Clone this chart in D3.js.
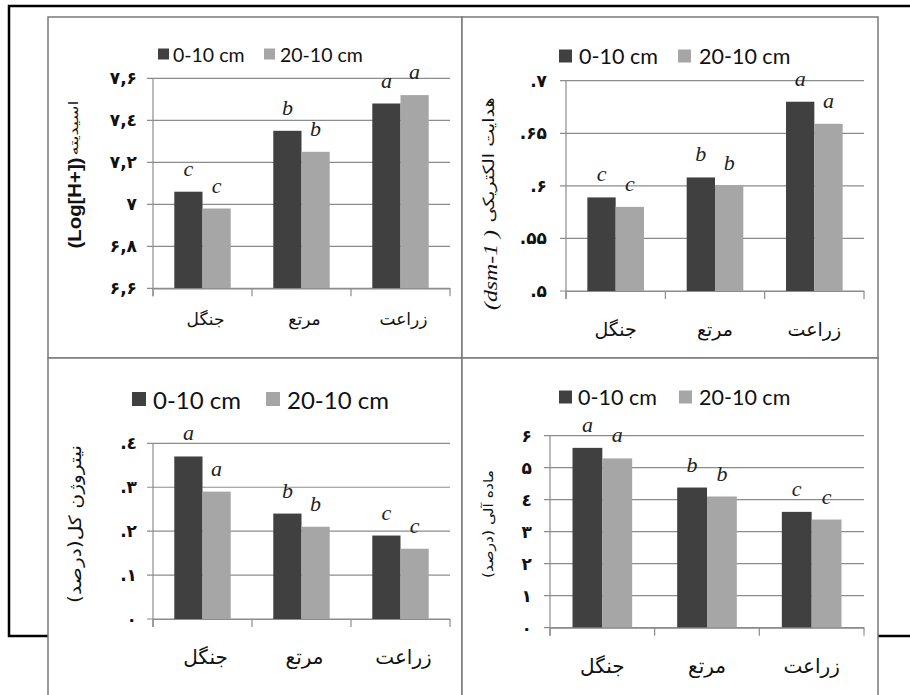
<!DOCTYPE html>
<html>
<head>
<meta charset="utf-8">
<script src="https://cdn.jsdelivr.net/npm/d3@7"></script>
<style>
html,body{margin:0;padding:0;background:#fff;}
svg{display:block;}
</style>
</head>
<body>
<svg id="chart" width="910" height="695"></svg>
<script>
// ---------------- DATA ----------------
const categories = ["جنگل", "مرتع", "زراعت"];
const seriesNames = ["0-10 cm", "20-10 cm"];

// pH (Log[H+])
const phDepth1 = [7.06, 7.35, 7.48];
const phDepth2 = [6.98, 7.25, 7.52];
const phLetters = ["c", "b", "a"];
const phTicks = [6.6, 6.8, 7.0, 7.2, 7.4, 7.6];
const phTickLabels = ["۶,۶", "۶,۸", "۷", "۷,۲", "۷,٤", "۷,۶"];

// EC (dsm-1)
const ecDepth1 = [0.589, 0.608, 0.680];
const ecDepth2 = [0.580, 0.600, 0.659];
const ecLetters = ["c", "b", "a"];
const ecTicks = [0.5, 0.55, 0.6, 0.65, 0.7];
const ecTickLabels = [".۵", ".۵۵", ".۶", ".۶۵", ".۷"];

// Total nitrogen (%)
const nDepth1 = [0.37, 0.24, 0.19];
const nDepth2 = [0.29, 0.21, 0.16];
const nLetters = ["a", "b", "c"];
const nTicks = [0, 0.1, 0.2, 0.3, 0.4];
const nTickLabels = ["۰", ".۱", ".۲", ".۳", ".٤"];

// Organic matter (%)
const omDepth1 = [5.62, 4.38, 3.62];
const omDepth2 = [5.29, 4.10, 3.38];
const omLetters = ["a", "b", "c"];
const omTicks = [0, 1, 2, 3, 4, 5, 6];
const omTickLabels = ["۰", "۱", "۲", "۳", "٤", "۵", "۶"];

// ---------------- LAYOUT ----------------
const svg = d3.select("#chart");
const DARK = "#404040", LIGHT = "#a6a6a6", GRID = "#8c8c8c";
const FA = "'DejaVu Sans', sans-serif";
const RLE = "\u202B", PDF = "\u202C";

// outer black frame (partly hidden by the panels)
svg.append("rect").attr("x", 9).attr("y", 6).attr("width", 920).attr("height", 630)
  .attr("fill", "#fff").attr("stroke", "#000").attr("stroke-width", 2.5);

// panel cells
const cells = [[48, 17, 414, 341], [462, 17, 416, 341], [48, 358, 414, 360], [462, 358, 416, 360]];
svg.selectAll("rect.cell").data(cells).join("rect").attr("class", "cell")
  .attr("x", d => d[0]).attr("y", d => d[1]).attr("width", d => d[2]).attr("height", d => d[3])
  .attr("fill", "#fff").attr("stroke", "#7a7a7a").attr("stroke-width", 1.5);

function vText(g, cx, cy, str, len, font, size, extra) {
  // vertical (rotated) text centred at (cx, cy), forced to a given length
  const t = g.append("text").attr("transform", `translate(${cx},${cy}) rotate(-90)`)
    .attr("text-anchor", "middle").attr("dominant-baseline", "central")
    .attr("font-family", font).attr("font-size", size).attr("fill", "#111")
    .attr("textLength", len).attr("lengthAdjust", "spacingAndGlyphs").text(str);
  if (extra) extra(t);
  return t;
}

function drawPanel(cfg) {
  const g = svg.append("g");
  const x = d3.scaleBand().domain(categories).range([cfg.x0, cfg.x1]);
  const bw = x.bandwidth();
  const xs = d3.scaleBand().domain(seriesNames).range([bw * 0.215, bw * 0.785]);
  const y = d3.scaleLinear().domain(cfg.domain).range([cfg.yBot, cfg.yTop]);

  // gridlines
  g.selectAll("line.grid").data(cfg.ticks).join("line")
    .attr("x1", cfg.x0 - 6).attr("x2", cfg.x1)
    .attr("y1", d => y(d)).attr("y2", d => y(d))
    .attr("stroke", GRID).attr("stroke-width", 1.2);

  // y axis labels
  const ya = d3.axisLeft(y).tickValues(cfg.ticks)
    .tickFormat((d, i) => cfg.tickLabels[i]).tickSize(0).tickPadding(cfg.tickPad);
  const yg = g.append("g").attr("transform", `translate(${cfg.x0},0)`).call(ya);
  yg.select(".domain").remove();
  yg.selectAll("text").attr("font-family", FA).attr("font-weight", "bold")
    .attr("font-size", cfg.tickFont).attr("fill", "#111");

  // bars
  const rows = categories.map((c, i) => ({ c, vals: [cfg.d1[i], cfg.d2[i]], letter: cfg.letters[i] }));
  const grp = g.selectAll("g.cat").data(rows).join("g").attr("transform", d => `translate(${x(d.c)},0)`);
  grp.selectAll("rect").data(d => d.vals.map((v, j) => ({ s: seriesNames[j], v }))).join("rect")
    .attr("x", d => xs(d.s)).attr("width", xs.bandwidth())
    .attr("y", d => y(d.v)).attr("height", d => cfg.yBot - y(d.v))
    .attr("fill", (d, j) => j === 0 ? DARK : LIGHT);
  grp.selectAll("text.sig").data(d => d.vals.map((v, j) => ({ s: seriesNames[j], v, l: d.letter }))).join("text")
    .attr("class", "sig")
    .attr("x", d => xs(d.s) + xs.bandwidth() / 2).attr("y", d => y(d.v) - 16)
    .attr("text-anchor", "middle").attr("font-family", "'Liberation Serif', serif")
    .attr("font-style", "italic").attr("font-size", 22).attr("fill", "#222").text(d => d.l);

  // axis lines
  g.append("line").attr("x1", cfg.x0).attr("x2", cfg.x0).attr("y1", cfg.yTop).attr("y2", cfg.yBot + 8)
    .attr("stroke", GRID).attr("stroke-width", 1.2);
  const xa = d3.axisBottom(x).tickSize(0).tickFormat("");
  const xg = g.append("g").attr("transform", `translate(0,${cfg.yBot})`).call(xa);
  xg.select(".domain").attr("stroke", GRID).attr("stroke-width", 1.2);
  xg.selectAll(".tick").remove();
  g.selectAll("line.xt").data(categories.map(c => x(c) + bw).concat([cfg.x0])).join("line")
    .attr("x1", d => d).attr("x2", d => d).attr("y1", cfg.yBot).attr("y2", cfg.yBot + 8)
    .attr("stroke", GRID).attr("stroke-width", 1.2);

  // category labels
  g.selectAll("text.cat").data(categories).join("text").attr("class", "cat")
    .attr("x", d => x(d) + bw / 2 + cfg.catDx).attr("y", cfg.catY)
    .attr("text-anchor", "middle").attr("dominant-baseline", "middle")
    .attr("font-family", FA).attr("font-size", cfg.catFont).attr("fill", "#111").text(d => d);

  // legend
  const lg = g.append("g");
  seriesNames.forEach((s, j) => {
    lg.append("rect").attr("x", cfg.legSq[j]).attr("y", cfg.legY - cfg.sq / 2)
      .attr("width", cfg.sq).attr("height", cfg.sq).attr("fill", j === 0 ? DARK : LIGHT);
    lg.append("text").attr("x", cfg.legTx[j]).attr("y", cfg.legY).attr("dominant-baseline", "central")
      .attr("font-family", "Lato, sans-serif").attr("font-size", cfg.legFont).attr("fill", "#111").text(s);
  });

  cfg.title(g);
}

// ---------- panel 1: pH ----------
drawPanel({
  x0: 153, x1: 450, yTop: 78.3, yBot: 288.3, domain: [6.6, 7.6],
  ticks: phTicks, tickLabels: phTickLabels, tickPad: 16, tickFont: 17,
  d1: phDepth1, d2: phDepth2, letters: phLetters,
  catY: 320, catFont: 17, catDx: 3,
  legY: 54, sq: 11, legSq: [158, 264], legTx: [173, 280], legFont: 19.5,
  title: g => {
    vText(g, 75, 203, "(Log[H+])", 91, "'Liberation Sans', sans-serif", 18, t => t.attr("font-weight", "bold"));
    vText(g, 73, 128, "اسیدیته", 55, FA, 12.5);
  }
});

// ---------- panel 2: EC ----------
drawPanel({
  x0: 566, x1: 864, yTop: 80.7, yBot: 291, domain: [0.5, 0.7],
  ticks: ecTicks, tickLabels: ecTickLabels, tickPad: 19, tickFont: 17,
  d1: ecDepth1, d2: ecDepth2, letters: ecLetters,
  catY: 330, catFont: 19, catDx: 0,
  legY: 56, sq: 13, legSq: [559, 678], legTx: [579, 699], legFont: 21.5,
  title: g => {
    vText(g, 490, 270, "(dsm-1 )", 80, "'Liberation Serif', serif", 19, t => t.attr("font-style", "italic"));
    vText(g, 489, 160, "هدایت الکتریکی", 125, FA, 15.5);
  }
});

// ---------- panel 3: N ----------
drawPanel({
  x0: 153, x1: 450, yTop: 443.3, yBot: 619, domain: [0, 0.4],
  ticks: nTicks, tickLabels: nTickLabels, tickPad: 16, tickFont: 17,
  d1: nDepth1, d2: nDepth2, letters: nLetters,
  catY: 658, catFont: 20, catDx: 3,
  legY: 399, sq: 14, legSq: [132, 266], legTx: [153, 287], legFont: 24,
  title: g => {
    vText(g, 75, 524, RLE + "نیتروژن  کل(درصد)" + PDF, 158, FA, 17);
  }
});

// ---------- panel 4: OM ----------
drawPanel({
  x0: 550, x1: 864, yTop: 435.7, yBot: 627.7, domain: [0, 6],
  ticks: omTicks, tickLabels: omTickLabels, tickPad: 18, tickFont: 17,
  d1: omDepth1, d2: omDepth2, letters: omLetters,
  catY: 667, catFont: 20, catDx: 0,
  legY: 397, sq: 13, legSq: [559, 679], legTx: [578, 699], legFont: 21.5,
  title: g => {
    vText(g, 488, 524, RLE + "ماده آلی (درصد)" + PDF, 108, FA, 13.5);
  }
});
</script>
</body>
</html>
